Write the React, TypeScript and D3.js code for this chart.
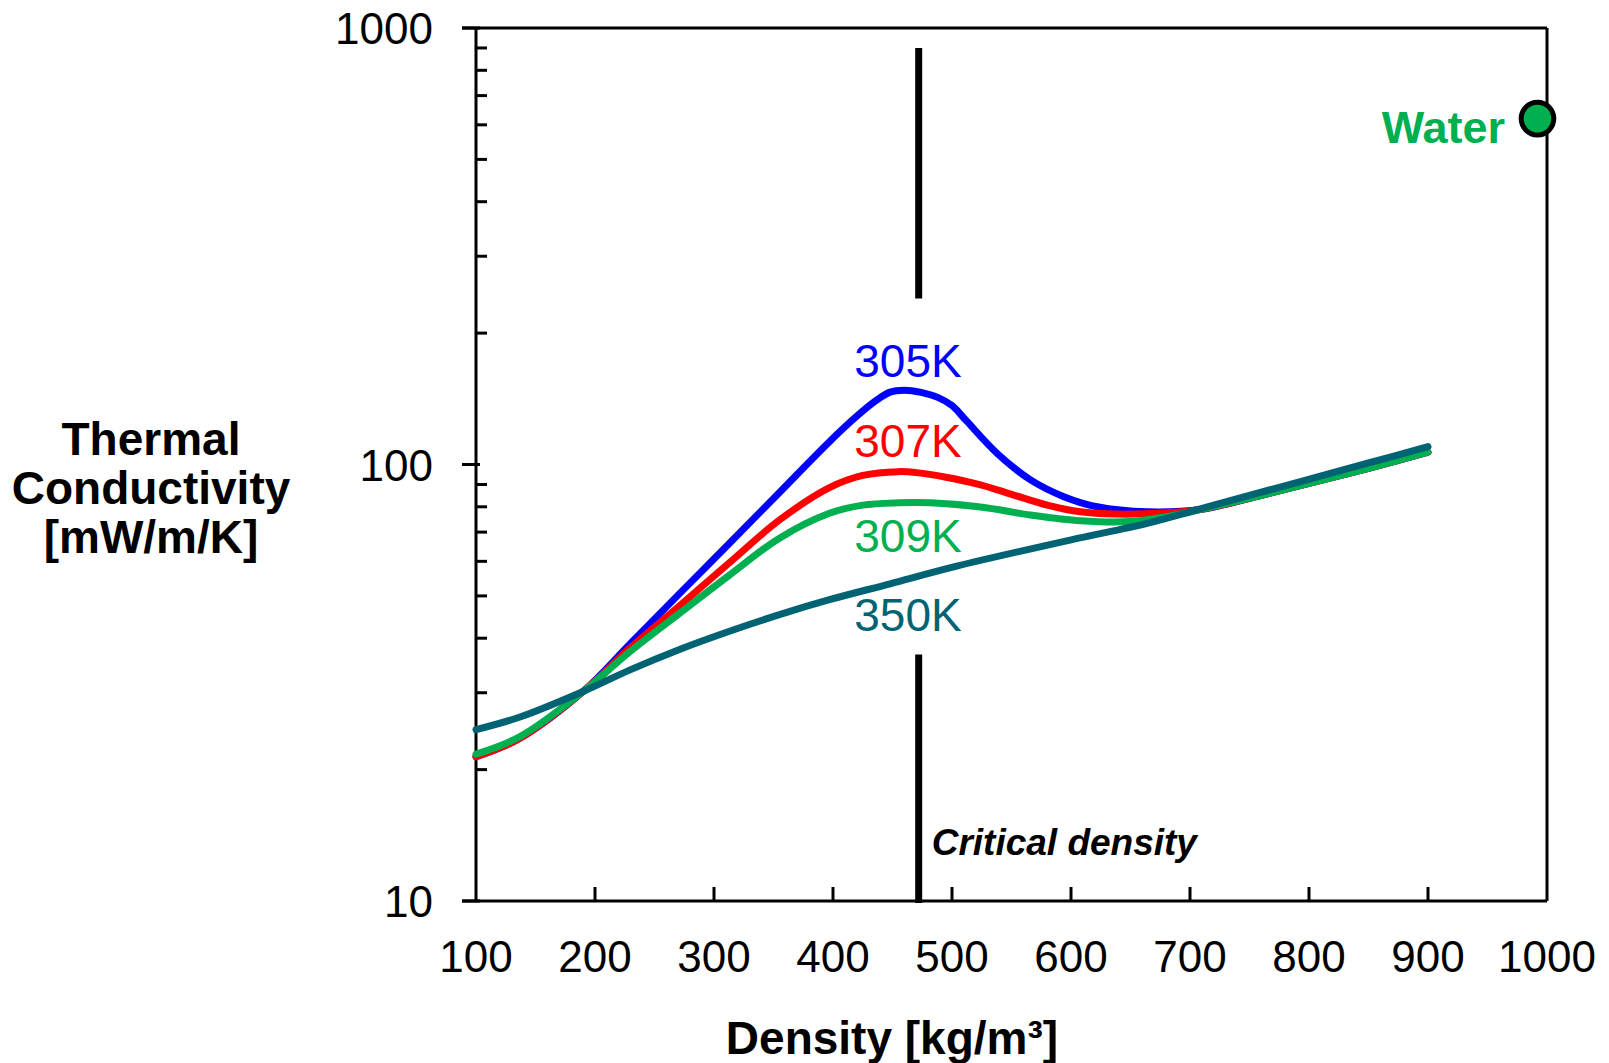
import React from 'react';
import * as d3 from 'd3';

const W = 1609;
const H = 1063;
const FONT = '"Liberation Sans", Arial, Helvetica, sans-serif';

// Plot area bounds (pixels)
const X0 = 476, X1 = 1547, Y0 = 901, Y1 = 28;

// Axis tick values
const xTicks = [100, 200, 300, 400, 500, 600, 700, 800, 900, 1000];
const yMajorTicks = [10, 100, 1000];
const yMinorTicks = [20, 30, 40, 50, 60, 70, 80, 90, 200, 300, 400, 500, 600, 700, 800, 900];

// Series: 305K
const dens305 = [100, 137, 190, 229, 271, 313, 355, 397, 420, 436, 448, 460, 474, 488, 500, 512, 538, 566, 594, 622, 664, 710, 760, 800, 850, 900];
const vals305 = [21.4, 23.6, 30.2, 38.7, 50.6, 66, 86.3, 112.8, 129, 140, 146.5, 148, 146.3, 142.5, 136.5, 126, 106, 92.2, 84.4, 80, 77.9, 79, 85, 90.5, 98, 106.7];

// Series: 307K
const dens307 = [100, 137, 190, 229, 271, 313, 355, 397, 425, 455, 470, 495, 524, 552, 580, 608, 636, 678, 710, 760, 800, 850, 900];
const vals307 = [21.4, 23.6, 30.2, 37.9, 47.4, 59.6, 74.6, 88.5, 94.4, 96.3, 95.8, 93.5, 89.8, 85.1, 80.7, 77.9, 77, 77.4, 79, 85, 90.5, 98, 106.7];

// Series: 309K
const dens309 = [100, 137, 190, 229, 271, 313, 355, 397, 425, 455, 482, 524, 566, 608, 650, 692, 710, 760, 800, 850, 900];
const vals309 = [21.7, 23.8, 30.2, 37.2, 45.6, 55.8, 67.8, 77.3, 80.7, 81.7, 81.7, 79.9, 76.6, 74.3, 74, 77, 79, 85, 90.5, 98, 106.7];

// Series: 350K
const dens350 = [100, 137, 190, 229, 271, 313, 355, 397, 448, 504, 600, 664, 720, 792, 850, 900];
const vals350 = [24.7, 26.4, 30.2, 33.8, 37.7, 41.5, 45.3, 49, 53.3, 58.5, 67.2, 73.3, 80.7, 91.3, 100.8, 109.9];

const seriesNames = ['305K', '307K', '309K', '350K'];
const seriesColors = ['#0000FF', '#FF0000', '#00B050', '#006374'];
const seriesDens = [dens305, dens307, dens309, dens350];
const seriesVals = [vals305, vals307, vals309, vals350];
// label anchor (density, value at baseline)
const labelDens = [463, 463, 463, 463];
const labelVals = [158.7, 104, 63, 41.6];

// Critical density
const criticalDensity = 472;
const criticalSegments: [number, number][] = [[900, 240], [36.7, 9.9]];

// Water point
const waterDensity = 992;
const waterValue = 620;

export default function App() {
  const x = d3.scaleLinear().domain([100, 1000]).range([X0, X1]);
  const y = d3.scaleLog().domain([10, 1000]).range([Y0, Y1]);

  const line = d3
    .line<[number, number]>()
    .x((p) => x(p[0]))
    .y((p) => y(p[1]))
    .curve(d3.curveCatmullRom.alpha(0.5));

  const order = [0, 1, 2, 3];

  return (
    <svg
      width={W}
      height={H}
      viewBox={`0 0 ${W} ${H}`}
      style={{ position: 'absolute', left: 0, top: 0, display: 'block', background: '#fff' }}
      fontFamily={FONT}
    >
      <rect x={0} y={0} width={W} height={H} fill="#fff" />

      {/* frame */}
      <line x1={x(100) - 14} x2={X1} y1={Y1} y2={Y1} stroke="#000" strokeWidth={3} />
      <line x1={X1} x2={X1} y1={Y1} y2={Y0} stroke="#000" strokeWidth={3} />
      <line x1={x(100) - 14} x2={X1} y1={Y0} y2={Y0} stroke="#000" strokeWidth={3} />
      <line x1={X0} x2={X0} y1={Y1} y2={Y0} stroke="#000" strokeWidth={3} />

      {/* y ticks */}
      {yMajorTicks.map((t) => (
        <g key={'ym' + t}>
          <line x1={X0 - 14} x2={X0 + 4} y1={y(t)} y2={y(t)} stroke="#000" strokeWidth={3} />
          <text x={433} y={y(t) + 16} textAnchor="end" fontSize={44} fill="#000">
            {t}
          </text>
        </g>
      ))}
      {yMinorTicks.map((t) => (
        <line key={'yn' + t} x1={X0} x2={X0 + 11} y1={y(t)} y2={y(t)} stroke="#000" strokeWidth={3} />
      ))}

      {/* x ticks */}
      {xTicks.map((t) => (
        <g key={'x' + t}>
          {t > 100 && t < 1000 && (
            <line x1={x(t)} x2={x(t)} y1={Y0} y2={Y0 - 14} stroke="#000" strokeWidth={3} />
          )}
          <text x={x(t)} y={972} textAnchor="middle" fontSize={44} fill="#000">
            {t}
          </text>
        </g>
      ))}

      {/* critical density line */}
      {criticalSegments.map((s, i) => (
        <line
          key={'c' + i}
          x1={x(criticalDensity)}
          x2={x(criticalDensity)}
          y1={y(s[0])}
          y2={y(s[1])}
          stroke="#000"
          strokeWidth={7}
        />
      ))}
      <text
        x={x(criticalDensity) + 13}
        y={855}
        fontSize={37}
        fontWeight="bold"
        fontStyle="italic"
        fill="#000"
      >
        Critical density
      </text>

      {/* curves */}
      {order.map((i) => {
        const pts: [number, number][] = seriesDens[i].map((d, k) => [d, seriesVals[i][k]]);
        return (
          <path
            key={'s' + i}
            d={line(pts) || ''}
            fill="none"
            stroke={seriesColors[i]}
            strokeWidth={7}
            strokeLinejoin="round"
            strokeLinecap="round"
          />
        );
      })}

      {/* curve labels */}
      {seriesNames.map((n, i) => (
        <text
          key={'l' + n}
          x={x(labelDens[i])}
          y={y(labelVals[i])}
          textAnchor="middle"
          fontSize={46}
          fill={seriesColors[i]}
        >
          {n}
        </text>
      ))}

      {/* water */}
      <circle
        cx={x(waterDensity)}
        cy={y(waterValue)}
        r={16.3}
        fill="#00B050"
        stroke="#000"
        strokeWidth={5}
      />
      <text x={1505} y={143} textAnchor="end" fontSize={45} fontWeight="bold" fill="#00B050">
        Water
      </text>

      {/* y axis title */}
      <text textAnchor="middle" fontSize={46} fontWeight="bold" fill="#000">
        <tspan x={151} y={455}>Thermal</tspan>
        <tspan x={151} y={504}>Conductivity</tspan>
        <tspan x={151} y={553}>[mW/m/K]</tspan>
      </text>

      {/* x axis title */}
      <text x={892} y={1054} textAnchor="middle" fontSize={46} fontWeight="bold" fill="#000">
        Density [kg/m³]
      </text>
    </svg>
  );
}
